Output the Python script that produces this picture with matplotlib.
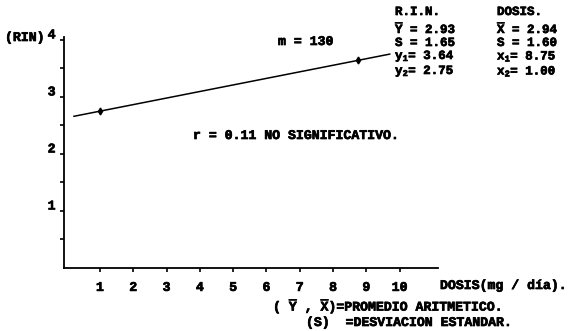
import matplotlib
matplotlib.use("Agg")
import matplotlib.pyplot as plt
import matplotlib.patheffects as pe
from matplotlib.transforms import ScaledTranslation

# datos
puntos_x = [1.00, 8.75]
puntos_y = [2.75, 3.64]
recta_x = [0.22, 9.70]
recta_y = [2.66, 3.75]
xticks = [1, 2, 3, 4, 5, 6, 7, 8, 9, 10]
yticks = [1, 2, 3, 4]
yminor = [0.5, 1.5, 2.5, 3.5]

rin_stats = [r"$\overline{\mathrm{Y}}$ = 2.93", "S = 1.65",
             r"y$_1$= 3.64", r"y$_2$= 2.75"]
dosis_stats = [r"$\overline{\mathrm{X}}$ = 2.94", "S = 1.60",
               r"x$_1$= 8.75", r"x$_2$= 1.00"]

plt.rcParams["font.family"] = ["Liberation Mono", "DejaVu Sans Mono"]
plt.rcParams["font.weight"] = "bold"
plt.rcParams["mathtext.fontset"] = "custom"
plt.rcParams["mathtext.rm"] = "Liberation Mono:bold"
plt.rcParams["mathtext.it"] = "Liberation Mono:bold"
plt.rcParams["mathtext.bf"] = "Liberation Mono:bold"

grueso = [pe.withStroke(linewidth=0.5, foreground="black")]

W, H = 580, 331
fig = plt.figure(figsize=(5.8, 3.31), dpi=100)
ax = fig.add_axes([64 / W, 1 - 268 / H, (438 - 64) / W, (268 - 37) / H])

ax.plot(recta_x, recta_y, color="black", lw=1.1)
ax.plot(puntos_x, puntos_y, "d", color="black", ms=3.5)

ax.set_xlim(-0.08, 11.15)
ax.set_ylim(0, 4.05)
for s in ["top", "right"]:
    ax.spines[s].set_visible(False)
for s in ["left", "bottom"]:
    ax.spines[s].set_linewidth(1.3)

ax.set_xticks(xticks)
ax.set_yticks(yticks)
ax.set_yticks(yminor, minor=True)
ax.tick_params(axis="both", which="both", length=3, width=1.2, color="black",
               labelsize=9.5)
ax.tick_params(axis="x", pad=7)
ax.tick_params(axis="y", pad=3)
off = ScaledTranslation(0, 6 / 100, fig.dpi_scale_trans)
for lab in ax.get_yticklabels():
    lab.set_transform(lab.get_transform() + off)
for lab in ax.get_xticklabels() + ax.get_yticklabels():
    lab.set_path_effects(grueso)


def txt(x, y, s, size=9.5, **kw):
    fig.text(x / W, 1 - y / H, s, fontsize=size, fontweight="bold",
             va="center", ha="left", path_effects=grueso, **kw)


txt(5, 38, "(RIN)")
txt(278, 42, "m = 130")
txt(193, 136, "r = 0.11 NO SIGNIFICATIVO.")

txt(395, 12, "R.I.N.", size=9)
txt(497, 12, "DOSIS.", size=9)
filas_y = [28, 43, 56, 71]
for yy, a, b in zip(filas_y, rin_stats, dosis_stats):
    txt(395, yy, a, size=9)
    txt(497, yy, b, size=9)

txt(440, 286, "DOSIS(mg / día).")
txt(273, 306, r"( $\overline{\mathrm{Y}}$ , $\overline{\mathrm{X}}$)=PROMEDIO ARITMETICO.")
txt(306, 323, "(S)  =DESVIACION ESTANDAR.")

fig.savefig("out.png", dpi=100)
